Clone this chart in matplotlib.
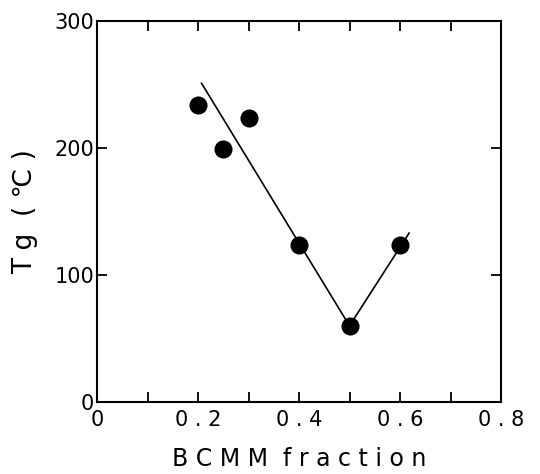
import matplotlib.pyplot as plt, numpy as np

# MEASURED POINTS
bcmm = [0.2, 0.25, 0.3, 0.4, 0.5, 0.6]
tg = [234, 199, 224, 124, 60, 124]

# HAND-DRAWN TREND LINE
line_x = [0.207, 0.5, 0.618]
line_y = [251, 60, 133]

xticks = [0, 0.2, 0.4, 0.6, 0.8]
xlabels = ["0", "0 . 2", "0 . 4", "0 . 6", "0 . 8"]
yticks = [0, 100, 200, 300]
ylabels = ["0", "100", "200", "300"]

plt.rcParams['font.family'] = ['DejaVu Sans']

fig = plt.figure(figsize=(5.4, 4.74), dpi=100)
ax = fig.add_axes([97/540, 1 - 402/474, 404/540, 381/474])

ax.plot(line_x, line_y, color="black", lw=1.2)
ax.plot(bcmm, tg, "o", color="black", ms=12)

ax.set_xlim(0, 0.8)
ax.set_ylim(0, 300)
ax.set_xticks(xticks)
ax.set_xticklabels(xlabels, fontsize=15)
ax.set_xticks(np.arange(0.1, 0.8, 0.1), minor=True)
ax.set_yticks(yticks)
ax.set_yticklabels(ylabels, fontsize=15)
ax.tick_params(which="both", direction="in", top=True, right=True, width=1.3)
ax.tick_params(which="major", length=7)
ax.tick_params(which="minor", length=7)
ax.tick_params(axis="x", pad=6)
ax.tick_params(axis="y", pad=2)
for s in ax.spines.values():
    s.set_linewidth(1.5)

ax.set_xlabel("B C M M  f r a c t i o n", fontsize=17, labelpad=12)
ax.set_ylabel("T g  ( \u2103 )", fontsize=19, labelpad=12)

fig.savefig("out.png", dpi=100)
